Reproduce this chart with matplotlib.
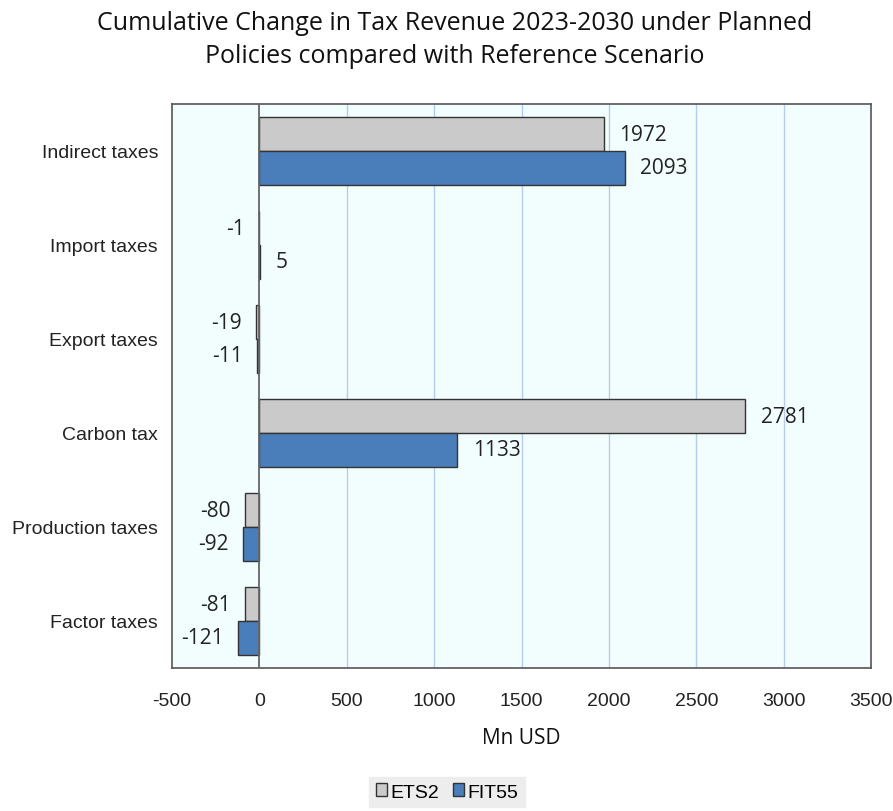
import matplotlib
matplotlib.use("Agg")
import matplotlib.pyplot as plt
import numpy as np
from matplotlib.patches import Patch

categories = ["Indirect taxes", "Import taxes", "Export taxes", "Carbon tax", "Production taxes", "Factor taxes"]
ets2 = [1972, -1, -19, 2781, -80, -81]
fit55 = [2093, 5, -11, 1133, -92, -121]
series_names = ["ETS2", "FIT55"]
xticks = [-500, 0, 500, 1000, 1500, 2000, 2500, 3000, 3500]

W, H = 893, 812
fig = plt.figure(figsize=(W/100, H/100), dpi=100)
ax = fig.add_axes([172/W, 1-669/H, (871-172)/W, (669-105)/H])
ax.set_facecolor("#F2FEFE")

n = len(categories)
y = np.arange(n)
bh = 0.36
gray = "#CACACA"
blue = "#4A7EBB"
edge = "#333333"
ax.barh(y - bh/2, ets2, height=bh, color=gray, edgecolor=edge, linewidth=1.0, zorder=3)
ax.barh(y + bh/2, fit55, height=bh, color=blue, edgecolor=edge, linewidth=1.0, zorder=3)

ax.set_ylim(n - 0.5, -0.5)
ax.set_xlim(-500, 3500)
ax.set_xticks(xticks)
ax.set_xticklabels([str(t) for t in xticks], fontsize=14, family="Liberation Sans", color="#222222")
ax.set_yticks(y)
ax.set_yticklabels(categories, fontsize=14, family="Liberation Sans", color="#222222")
ax.tick_params(length=0)
ax.tick_params(axis="y", pad=10)
ax.tick_params(axis="x", pad=17)

for gx in xticks[2:-1]:
    ax.axvline(gx, color="#B8CCEE", linewidth=1.0, zorder=1)
ax.axvline(0, color="#666666", linewidth=1.3, zorder=4)

for s in ax.spines.values():
    s.set_color("#555555")
    s.set_linewidth(1.2)

lblfont = dict(fontsize=15, family="Open Sans", color="#222222")
for vals, off in ((ets2, -bh/2), (fit55, bh/2)):
    for i, v in enumerate(vals):
        if v >= 0:
            ax.annotate(str(v), (v, i + off), xytext=(11, 0), textcoords="offset points",
                        ha="left", va="center", **lblfont)
        else:
            ax.annotate(str(v), (v, i + off), xytext=(-10.5, 0), textcoords="offset points",
                        ha="right", va="center", **lblfont)

ax.set_xlabel("Mn USD", fontsize=15, family="Open Sans", labelpad=13, color="#111111")

fig.text(455/W, 1-40/H, "Cumulative Change in Tax Revenue 2023-2030 under Planned\nPolicies compared with Reference Scenario",
         ha="center", va="center", fontsize=18, family="Open Sans", linespacing=1.45, color="#111111")

handles = [Patch(facecolor=gray, edgecolor=edge), Patch(facecolor=blue, edgecolor=edge)]
leg = fig.legend(handles, series_names, loc="center", bbox_to_anchor=(447/W, 1-793/H), ncol=2,
                 frameon=True, fancybox=False, framealpha=1, handlelength=0.6, handleheight=0.6,
                 handletextpad=0.15, columnspacing=0.7, borderpad=0.35,
                 prop=dict(family="Liberation Sans", size=14))
leg.get_frame().set_facecolor("#EDEDED")
leg.get_frame().set_edgecolor("#EDEDED")

fig.savefig("out.png", dpi=100)
